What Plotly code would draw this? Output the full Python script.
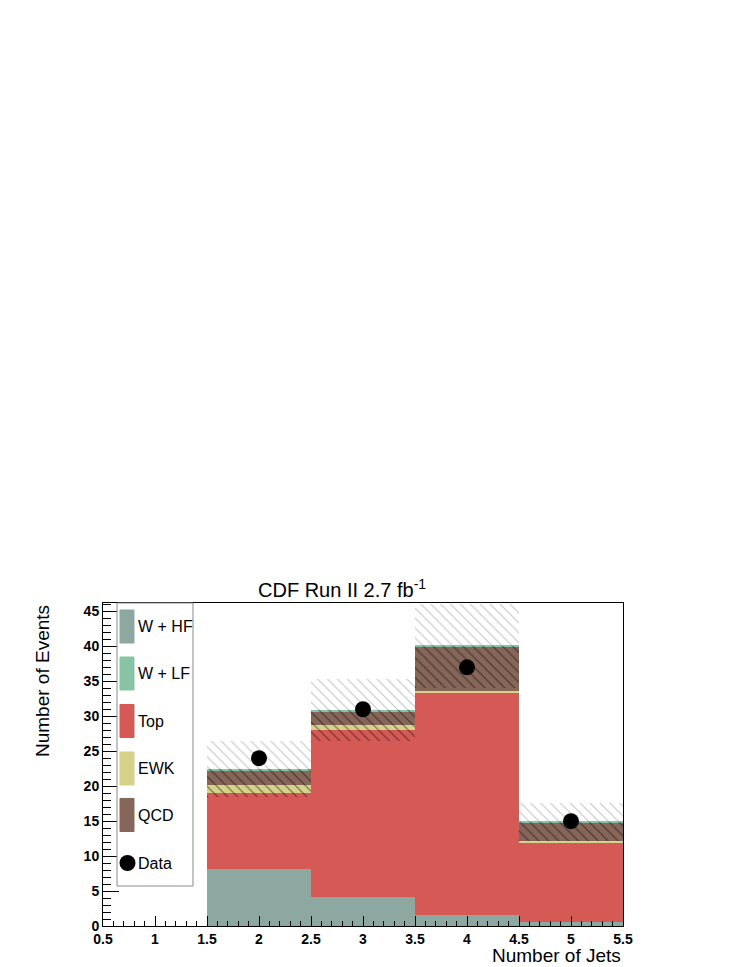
import plotly.graph_objects as go

# Jet multiplicity bins and stacked background predictions.
jets = [1, 2, 3, 4, 5]
w_hf = [0, 8.1, 4.1, 1.6, 0.6]
top = [0, 10.9, 24.0, 31.7, 11.4]
ewk = [0, 1.2, 0.7, 0.3, 0.1]
qcd = [0, 2.0, 1.9, 6.4, 2.7]
w_lf = [0, 0.2, 0.2, 0.1, 0.1]
syst_err = [0, 4.0, 4.5, 6.0, 2.7]

data_jets = [2, 3, 4, 5]
data_events = [24, 31, 37, 15]

x_ticks = [0.5, 1, 1.5, 2, 2.5, 3, 3.5, 4, 4.5, 5, 5.5]
x_labels = ["0.5", "1", "1.5", "2", "2.5", "3", "3.5", "4", "4.5", "5", "5.5"]
y_ticks = [0, 5, 10, 15, 20, 25, 30, 35, 40, 45]

# Stack order, bottom to top.
stack = [
    ("W + HF", w_hf, "#8da8a0"),
    ("Top", top, "#d55a56"),
    ("EWK", ewk, "#d6d289"),
    ("QCD", qcd, "#87665a"),
    ("W + LF", w_lf, "#86c4a5"),
]
legend_order = ["W + HF", "W + LF", "Top", "EWK", "QCD"]
colors = {name: col for name, _, col in stack}

FONT = "Liberation Sans, Arial, Helvetica, sans-serif"

fig = go.Figure()

base = [0.0] * len(jets)
for name, vals, col in stack:
    fig.add_trace(go.Bar(
        x=jets, y=vals, base=list(base), name=name, width=1,
        marker=dict(color=col, line=dict(width=0)),
        showlegend=False,
    ))
    base = [b + v for b, v in zip(base, vals)]
total = base

# Uncertainty band: light hatch above the stack, dark hatch over it.
fig.add_trace(go.Bar(
    x=jets, y=syst_err, base=total, width=1, showlegend=False,
    marker=dict(color="rgba(0,0,0,0)", line=dict(width=0),
                pattern=dict(shape="\\", fgcolor="#8c8c8c", bgcolor="rgba(0,0,0,0)",
                             size=7, solidity=0.16)),
))
fig.add_trace(go.Bar(
    x=jets, y=syst_err, base=[t - e for t, e in zip(total, syst_err)], width=1,
    showlegend=False,
    marker=dict(color="rgba(0,0,0,0)", line=dict(width=0),
                pattern=dict(shape="\\", fgcolor="#000000", bgcolor="rgba(0,0,0,0)",
                             size=7, solidity=0.16)),
))

fig.add_trace(go.Scatter(
    x=data_jets, y=data_events, mode="markers", name="Data", showlegend=False,
    marker=dict(color="black", size=16),
))

# Plot area in reference pixels, for placing the ROOT-style legend and titles.
L, R, T, B = 103, 623, 603, 926
OFF = 8  # page body margin of the html page


def px(xp):
    return (xp - L) / (R - L)


def py(yp):
    return (B - yp) / (B - T)


shapes = [dict(type="rect", xref="paper", yref="paper",
               x0=px(117), x1=px(193), y0=py(886), y1=py(603),
               line=dict(color="#8a8a8a", width=1), fillcolor="white", layer="above")]
annotations = []
row_y = [626.5, 673.5, 721, 768.5, 815, 863]
for name, yc in zip(legend_order, row_y):
    shapes.append(dict(type="rect", xref="paper", yref="paper",
                       x0=px(120), x1=px(134), y0=py(yc + 16.5), y1=py(yc - 16.5),
                       line=dict(color=colors[name], width=1),
                       fillcolor=colors[name], layer="above"))
    annotations.append(dict(text=name, xref="paper", yref="paper", x=px(136), y=py(yc),
                            xanchor="left", yanchor="middle", showarrow=False,
                            font=dict(family=FONT, size=16, color="black")))
shapes.append(dict(type="circle", xref="paper", yref="paper",
                   x0=px(119.5), x1=px(135.5), y0=py(row_y[5] + 8), y1=py(row_y[5] - 8),
                   line=dict(color="black", width=0), fillcolor="black", layer="above"))
annotations.append(dict(text="Data", xref="paper", yref="paper", x=px(136), y=py(row_y[5]),
                        xanchor="left", yanchor="middle", showarrow=False,
                        font=dict(family=FONT, size=16, color="black")))

annotations.append(dict(text="CDF Run II 2.7 fb<sup>-1</sup>", xref="paper", yref="paper",
                        x=px(342), y=py(588), xanchor="center", yanchor="middle",
                        showarrow=False, font=dict(family=FONT, size=20, color="black")))
annotations.append(dict(text="Number of Jets", xref="paper", yref="paper",
                        x=1, y=py(955), xanchor="right", yanchor="middle",
                        showarrow=False, font=dict(family=FONT, size=19, color="black")))
annotations.append(dict(text="Number of Events", xref="paper", yref="paper",
                        x=px(42), y=1, xanchor="center", yanchor="top", textangle=-90,
                        showarrow=False, font=dict(family=FONT, size=19, color="black")))

W, H = 747 - OFF, 967 - OFF
fig.update_layout(
    width=W, height=H, autosize=False,
    margin=dict(l=L - OFF, r=W - (R - OFF), t=T - OFF, b=H - (B - OFF)),
    barmode="overlay", bargap=0,
    plot_bgcolor="white", paper_bgcolor="white",
    showlegend=False,
    shapes=shapes, annotations=annotations,
    font=dict(family=FONT, color="black"),
)
fig.update_xaxes(
    range=[0.5, 5.5], tickvals=x_ticks, ticktext=x_labels,
    ticks="inside", ticklen=10, tickcolor="black", tickwidth=1,
    minor=dict(ticks="inside", dtick=0.1, tick0=0.5, ticklen=5, tickcolor="black"),
    showline=True, linecolor="black", linewidth=1, mirror=True,
    showgrid=False, zeroline=False,
    tickfont=dict(family=FONT, size=14, weight="bold"),
)
fig.update_yaxes(
    range=[0, 46.2], tickvals=y_ticks,
    ticks="inside", ticklen=16, tickcolor="black", tickwidth=1,
    minor=dict(ticks="inside", dtick=1, tick0=0, ticklen=8, tickcolor="black"),
    showline=True, linecolor="black", linewidth=1, mirror=True,
    showgrid=False, zeroline=False,
    tickfont=dict(family=FONT, size=14, weight="bold"),
)

fig.write_html("out.html")
